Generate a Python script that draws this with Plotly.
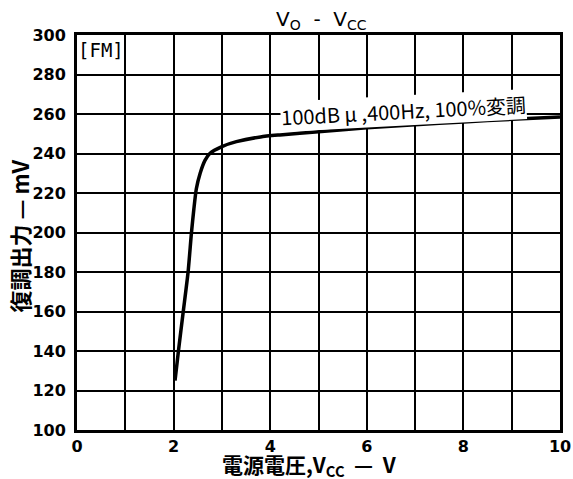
import plotly.graph_objects as go

# Data
vcc = [2.03, 2.1, 2.2, 2.3, 2.37, 2.42, 2.47, 2.55, 2.65, 2.75, 3.0, 3.3, 3.8, 4.2, 5, 6, 7, 8, 9, 10]
vo = [125, 140, 160, 180, 200, 212, 222, 230, 236.5, 240, 243.5, 246, 248.4, 249.4, 251, 253, 254.5, 256, 257.3, 258.5]

x_ticks = [0, 1, 2, 3, 4, 5, 6, 7, 8, 9, 10]
x_tick_labels = ["0", "", "2", "", "4", "", "6", "", "8", "", "10"]
y_ticks = [100, 120, 140, 160, 180, 200, 220, 240, 260, 280, 300]
y_tick_labels = ["100", "120", "140", "160", "180", "200", "220", "240", "260", "280", "300"]

title_text = "V<sub>O</sub>  -  V<sub>CC</sub>"
curve_label = "100dB \u03bc ,400Hz, 100%\u5909\u8abf"
mode_label = "[FM]"
x_title = "\u96fb\u6e90\u96fb\u5727,V<sub>CC</sub>  \u2014  V"
y_title = "\u5fa9\u8abf\u51fa\u529b \u2014 mV"

fig = go.Figure()
fig.add_trace(go.Scatter(x=vcc, y=vo, mode="lines", line=dict(color="black", width=3.5, shape="spline", smoothing=0.6),
                         showlegend=False, hoverinfo="skip"))

tick_font = dict(family="DejaVu Sans", size=16, color="black", weight="bold")
axis_common = dict(showgrid=True, gridcolor="black", gridwidth=2, showline=True, linecolor="black",
                   linewidth=3, mirror=True, ticks="", zeroline=False, tickfont=tick_font, automargin=False)

fig.update_layout(
    width=573, height=479,
    margin=dict(l=77, r=13, t=35, b=49, autoexpand=False),
    paper_bgcolor="white", plot_bgcolor="white",
    font=dict(family="Noto Sans CJK JP", color="black"),
    xaxis=dict(range=[0, 10], tickvals=x_ticks, ticktext=x_tick_labels, ticklabelstandoff=0, **axis_common),
    yaxis=dict(range=[100, 300], tickvals=y_ticks, ticktext=y_tick_labels, ticklabelstandoff=5, **axis_common),
)

fig.add_annotation(text=title_text, xref="paper", yref="paper", x=0.507, y=1.0, yanchor="bottom",
                   showarrow=False, font=dict(family="DejaVu Sans", size=20, color="black"), yshift=0)
fig.add_annotation(text=curve_label, x=6.75, y=261.6, showarrow=False, textangle=-3, bgcolor="white",
                   font=dict(family="Noto Sans CJK JP", size=20, color="black"), borderpad=0)
fig.add_annotation(text=mode_label, xref="paper", yref="paper", x=0.0, y=0.995, xanchor="left", yanchor="top",
                   xshift=-1, showarrow=False, font=dict(family="DejaVu Sans Mono", size=19, color="black"))
fig.add_annotation(text=x_title, xref="paper", yref="paper", x=0.482, y=0, yanchor="middle", yshift=-35,
                   showarrow=False, font=dict(family="Noto Sans CJK JP", size=21, color="black", weight="bold"))
fig.add_annotation(text=y_title, xref="paper", yref="paper", x=0, xanchor="center", xshift=-58, y=0.49,
                   textangle=-90, showarrow=False, font=dict(family="Noto Sans CJK JP", size=22, color="black", weight="bold"))

fig.write_html("out.html", config={"displayModeBar": False}, post_script="document.body.style.margin='0';")
